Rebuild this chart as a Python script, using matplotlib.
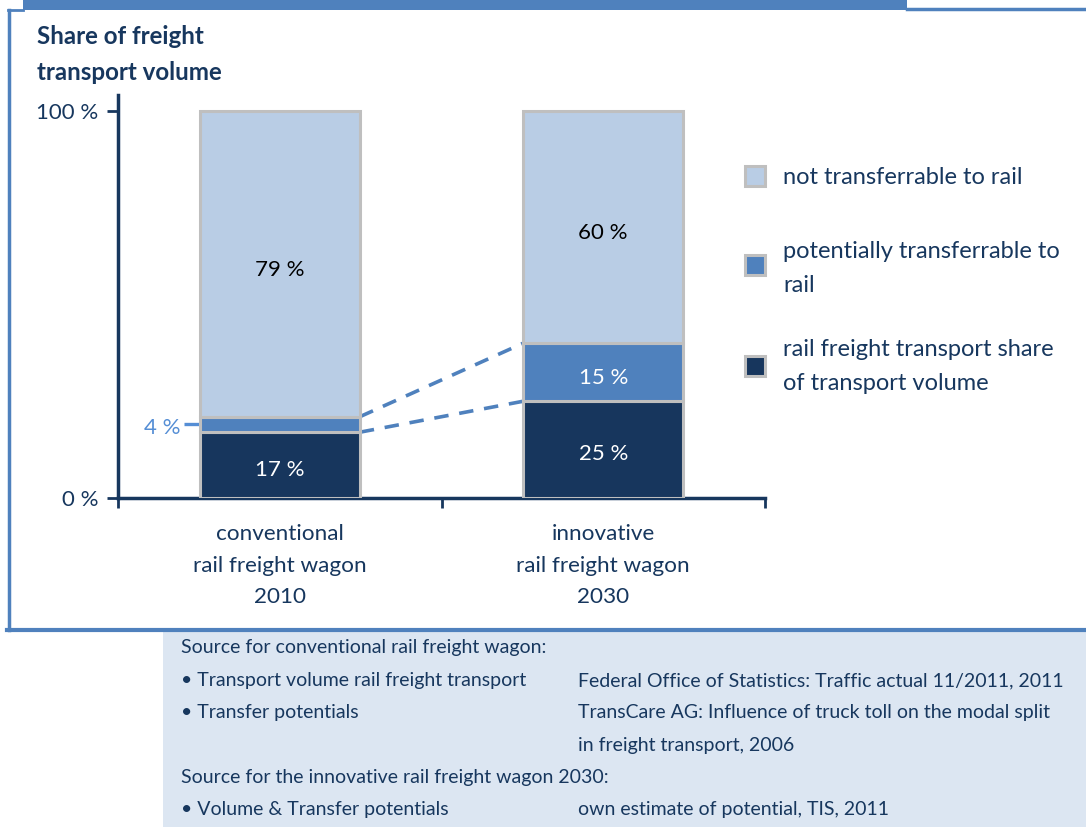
import matplotlib
matplotlib.use("Agg")
import matplotlib.pyplot as plt
from matplotlib.patches import Rectangle
from matplotlib.lines import Line2D

# --- data -------------------------------------------------------------
categories = ["conventional\nrail freight wagon\n2010",
              "innovative\nrail freight wagon\n2030"]
rail_share = [17, 25]          # rail freight transport share of transport volume
potential = [4, 15]            # potentially transferrable to rail
not_transfer = [79, 60]        # not transferrable to rail
series_names = ["not transferrable to rail",
                "potentially transferrable to\nrail",
                "rail freight transport share\nof transport volume"]
ytick_vals = [0, 100]
ytick_labels = ["0 %", "100 %"]

source_left = ["Source for conventional rail freight wagon:",
               "\u2022 Transport volume rail freight transport",
               "\u2022 Transfer potentials",
               "",
               "Source for the innovative rail freight wagon 2030:",
               "\u2022 Volume & Transfer potentials"]
source_right = ["",
                "Federal Office of Statistics: Traffic actual 11/2011, 2011",
                "TransCare AG: Influence of truck toll on the modal split",
                "in freight transport, 2006",
                "",
                "own estimate of potential, TIS, 2011"]

# --- style ------------------------------------------------------------
W, H = 1086, 827
C_DARK = "#17365d"
C_MID = "#4f81bd"
C_LIGHT = "#b9cde5"
C_EDGE = "#bfbfbf"
C_TEXT = "#17375e"
C_FRAME = "#4f81bd"
C_BOX = "#dce6f2"
C_NOTE = "#558ed5"
FONT = "Lato"
plt.rcParams["font.family"] = [FONT, "DejaVu Sans"]

FS_VAL = 16
FS_LEG = 17
FS_SRC = 14
FS_CAT = 16.2
FS_TICK = 16
FS_TITLE = 17.4

fig = plt.figure(figsize=(W / 100, H / 100), dpi=100)


def fx(x):
    return x / W


def fy(y):
    return 1 - y / H


# frame around the chart
fig.add_artist(Rectangle((fx(23), fy(10)), fx(907 - 23), 10 / H,
                         transform=fig.transFigure, color=C_FRAME, lw=0))
fig.add_artist(Line2D([fx(907), fx(1086)], [fy(8.5), fy(8.5)],
                      transform=fig.transFigure, color=C_FRAME, lw=2.5))
fig.add_artist(Line2D([fx(8.5), fx(8.5)], [fy(10), fy(630)],
                      transform=fig.transFigure, color=C_FRAME, lw=2.5))
fig.add_artist(Line2D([fx(7), fx(1086)], [fy(630), fy(630)],
                      transform=fig.transFigure, color=C_FRAME, lw=3))
fig.add_artist(Line2D([fx(7.5), fx(23)], [fy(9.5), fy(9.5)],
                      transform=fig.transFigure, color=C_FRAME, lw=2))

# source box
fig.add_artist(Rectangle((fx(163), 0), fx(1086 - 163), (827 - 632) / H,
                         transform=fig.transFigure, color=C_BOX, lw=0))
for i, (l, r) in enumerate(zip(source_left, source_right)):
    y = fy(648 + i * 32.4)
    if l:
        fig.text(fx(181), y, l, fontsize=FS_SRC, color=C_TEXT, va="center",
                 ha="left")
    if r:
        fig.text(fx(578), y, r, fontsize=FS_SRC, color=C_TEXT, va="center",
                 ha="left")

# title
fig.text(fx(37), fy(36), "Share of freight", fontsize=FS_TITLE,
         fontweight="bold", color=C_TEXT, va="center", ha="left")
fig.text(fx(37), fy(72), "transport volume", fontsize=FS_TITLE,
         fontweight="bold", color=C_TEXT, va="center", ha="left")

# axes: 0 % at y=498 px, 100 % at y=111 px
y0_px, y100_px = 498, 111
ppu = (y0_px - y100_px) / 100
ytop = (y0_px - 95) / ppu
ax = fig.add_axes([fx(118), fy(y0_px), fx(765 - 118), (y0_px - 95) / H])
ax.set_xlim(0, 2)
ax.set_ylim(0, ytop)
ax.patch.set_visible(False)
for s in ["top", "right"]:
    ax.spines[s].set_visible(False)
for s in ["left", "bottom"]:
    ax.spines[s].set_color(C_TEXT)
    ax.spines[s].set_linewidth(2.5)
    ax.spines[s].set_zorder(1)

xpos = [0.5, 1.5]
bw = 0.495
bottoms2 = rail_share
bottoms3 = [a + b for a, b in zip(rail_share, potential)]
bar_kw = dict(width=bw, edgecolor=C_EDGE, linewidth=2.2, zorder=3)
b1 = ax.bar(xpos, rail_share, color=C_DARK, **bar_kw)
b2 = ax.bar(xpos, potential, bottom=bottoms2, color=C_MID, **bar_kw)
b3 = ax.bar(xpos, not_transfer, bottom=bottoms3, color=C_LIGHT, **bar_kw)

# value labels
for i, x in enumerate(xpos):
    ax.text(x, rail_share[i] / 2 - 1.2, f"{rail_share[i]} %", ha="center",
            va="center", color="white", fontsize=FS_VAL, zorder=5)
    ax.text(x, bottoms3[i] + not_transfer[i] * 0.5 - 1.5,
            f"{not_transfer[i]} %", ha="center", va="center", color="black",
            fontsize=FS_VAL, zorder=5)
# the 15 % inside the second bar, the 4 % beside the first
ax.text(xpos[1], bottoms2[1] + potential[1] / 2 - 1.4, f"{potential[1]} %",
        ha="center", va="center", color="white", fontsize=FS_VAL, zorder=5)
mid4 = bottoms2[0] + potential[0] / 2
ax.plot([xpos[0] - bw / 2 - 0.05, xpos[0] - bw / 2], [mid4, mid4],
        color=C_NOTE, lw=2.4, zorder=2, solid_capstyle="butt")
ax.text(xpos[0] - bw / 2 - 0.06, mid4 - 0.8, f"{potential[0]} %",
        ha="right", va="center", color=C_NOTE, fontsize=FS_VAL, zorder=5)

# dashed connectors between the bars
x_a = xpos[0] + bw / 2
x_b = xpos[1] - bw / 2
ax.plot([x_a, x_b], [bottoms3[0], bottoms3[1]], ls=(0, (4, 3)), color=C_MID,
        lw=2.6, zorder=2)
ax.plot([x_a, x_b], [bottoms2[0], bottoms2[1]], ls=(0, (4, 3)), color=C_MID,
        lw=2.6, zorder=2)

# ticks
ax.set_yticks(ytick_vals)
ax.set_yticklabels(ytick_labels, fontsize=FS_TICK, color=C_TEXT)
ax.tick_params(axis="y", direction="out", length=8, width=2, color=C_TEXT,
               pad=6)
ax.set_xticks([0, 1, 2])
ax.set_xticklabels(["", "", ""])
ax.tick_params(axis="x", direction="out", length=7, width=2, color=C_TEXT)

# category labels below the axis
for x, lab in zip(xpos, categories):
    xp = 118 + x / 2 * (765 - 118)
    for j, line in enumerate(lab.split("\n")):
        fig.text(fx(xp), fy(534 + j * 31.5), line, ha="center", va="center",
                 fontsize=FS_CAT, color=C_TEXT)

# legend
leg_y = [176, 265, 366]
text_y = [[178], [252, 286], [350, 383]]
colors = [C_LIGHT, C_MID, C_DARK]
for c, ly, name, tys in zip(colors, leg_y, series_names, text_y):
    fig.add_artist(Rectangle((fx(745), fy(ly + 10)), 20 / W, 20 / H,
                             transform=fig.transFigure, facecolor=c,
                             edgecolor=C_EDGE, lw=2.2))
    for line, ty in zip(name.split("\n"), tys):
        fig.text(fx(783), fy(ty), line, fontsize=FS_LEG, color=C_TEXT,
                 va="center", ha="left")

fig.savefig("out.png", dpi=100)
